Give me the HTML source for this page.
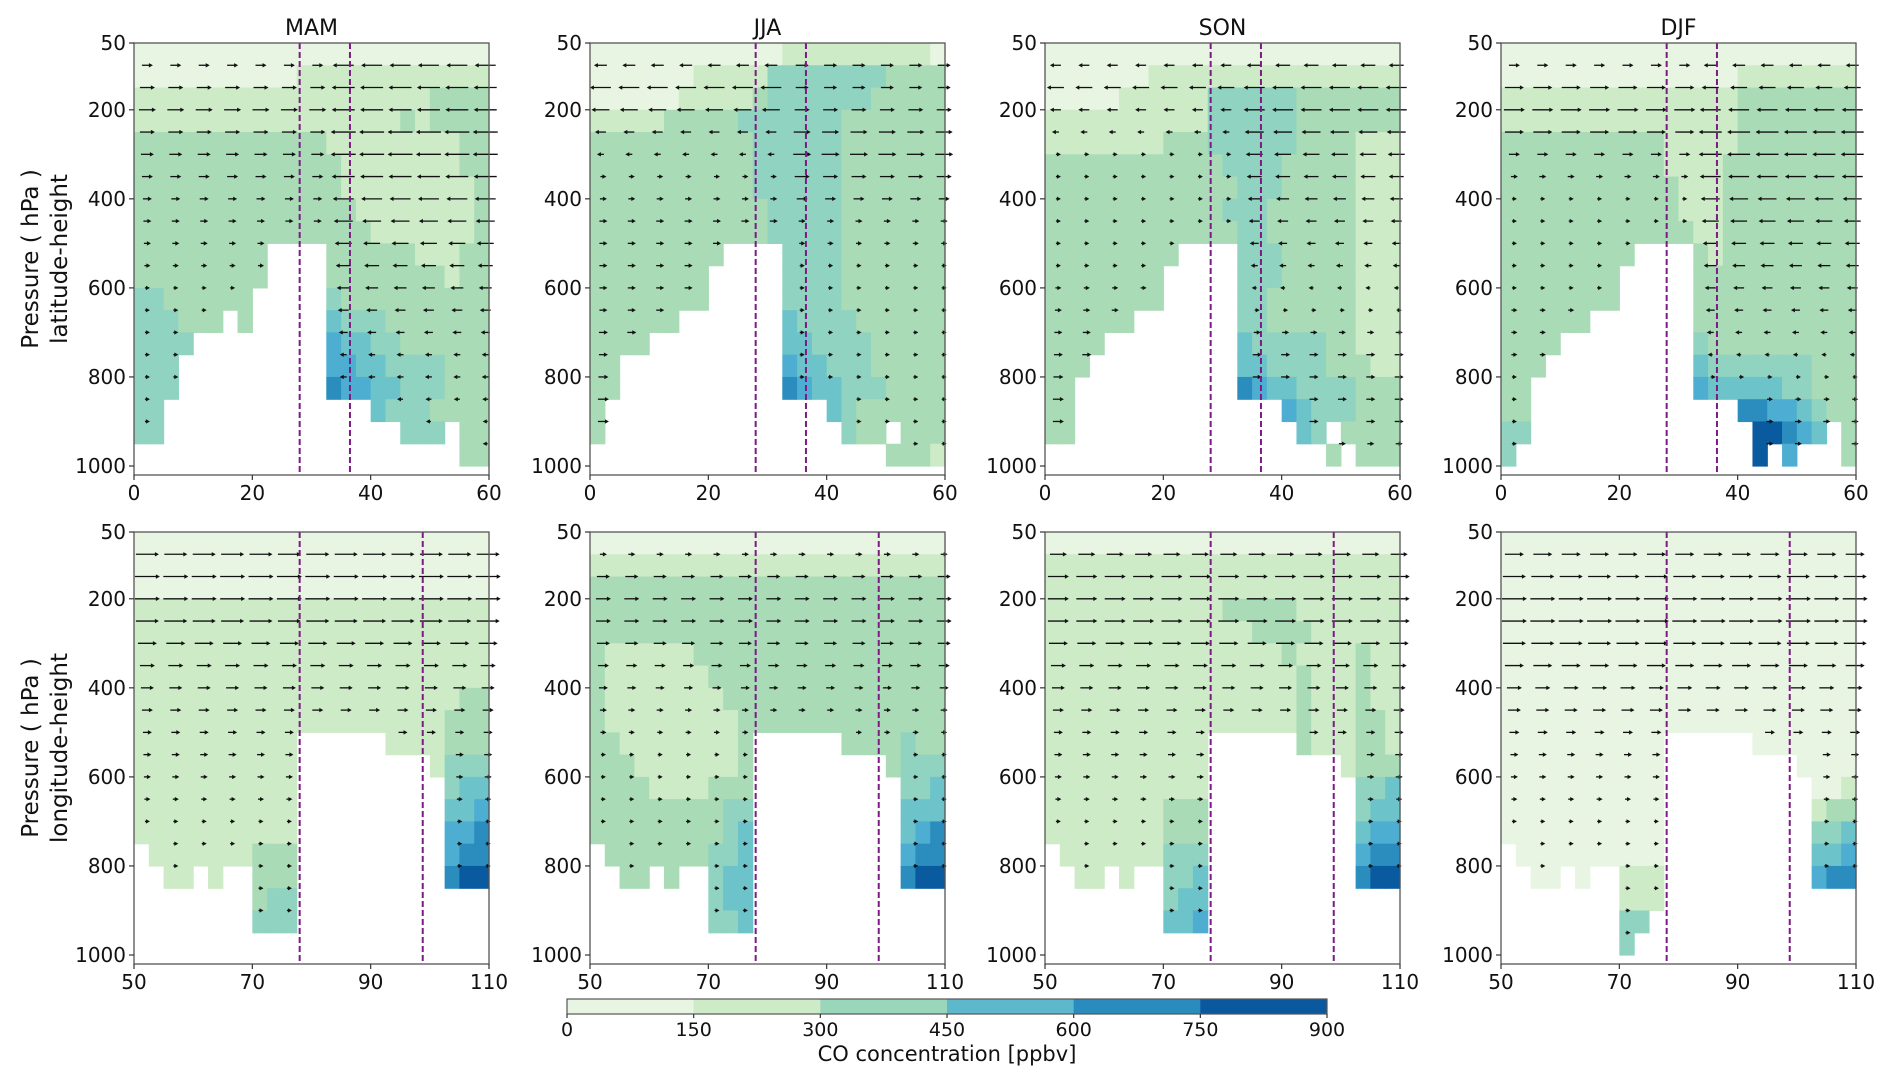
<!DOCTYPE html>
<html><head><meta charset="utf-8">
<style>
html,body{margin:0;padding:0;background:#fff;}
svg{display:block;font-family:"DejaVu Sans","Liberation Sans",sans-serif;}
</style></head>
<body>
<svg id="fig" width="1892" height="1086" viewBox="0 0 1892 1086" xmlns="http://www.w3.org/2000/svg"></svg>
<script>
// ---- data ----
const seasons = ["MAM","JJA","SON","DJF"];
const latTicks = [0,20,40,60];
const lonTicks = [50,70,90,110];
const pTicks = [50,200,400,600,800,1000];
const latLines = [28,36.5];
const lonLines = [78,98.8];
const cbTicks = [0,150,300,450,600,750,900];
const cbColors = ["#e8f5e2","#cdebc6","#9ad6ba","#5db8cc","#2a8bbe","#0a589e"];
const levelColors = {a:"#e8f5e2",b:"#cdebc6",c:"#a9dcb6",d:"#8fd3c0",e:"#6cc3c9",f:"#4daed2",g:"#2b8cbe",h:"#0a5a9f"};
// CO level grids: rows = 50 hPa bands from 50 to 1000, cols = 2.5 deg cells
const gridTopMAM = [
"aaaaaaaaaaaaaaaaaaaaaaaa","aaaaaaaaaaabbbbbbbbbbbbb","bbbbbbbbbbbbbbbbbbbbcccc","bbbbbbbbbbbbbbbbbbcbcccc",
"cccccccccccccbbbbbbbbbcc","ccccccccccccccbbbbbbbbcc","ccccccccccccccbbbbbbbbbc","cccccccccccccccbbbbbbbbc",
"ccccccccccccccccbbbbbbbc","ccccccccc....ccccccbbbcc","ccccccccc....ccccccccbcc","ddcccccc.....dcccccccccc",
"dddccc.c.....edddccccccc","dddd.........feeddcccccc","ddd..........ffeeddddccc","ddd..........gffeedddccc",
"dd..............edddcccc","dd................ddd.cc","......................cc"];
const gridTopJJA = [
"aaaaaaaaaaaaabbbbbbbbbba","aaaaaaabbbbbddddddddcccc","aaaaaabbbbbcdddddddccccc","bbbbbcccccdddddddccccccc",
"cccccccccccddddddccccccc","cccccccccccddddddccccccc","cccccccccccddddddccccccc","ccccccccccccdddddccccccc",
"ccccccccccccdddddccccccc","ccccccccc....ddddccccccc","cccccccc.....ddddccccccc","cccccccc.....ddddccccccc",
"cccccc.......eddddcccccc","cccc.........eeddddccccc","cc...........feedddccccc","cc...........gfeedddcccc",
"c...............edcccccc","c................dcc.ccc","....................cccb"];
const gridTopSON = [
"aaaaaaaaaaaaaaaaaaaaaaaa","aaaaaaabbbbbbbbbbbbbbbbb","aaaaabbbbbbddddddccccccc","bbbbbbbbbbbddddddccccccc",
"bbbbbbbbcccddddddccccbbb","ccccccccccccddddcccccbbb","cccccccccccccdddcccccbbb","ccccccccccccdddccccccbbb",
"cccccccccccccddccccccbbb","ccccccccc....dddcccccbbb","cccccccc.....dddcccccbbb","cccccccc.....ddccccccbbb",
"cccccc.......ddccccccbbb","cccc.........edddddccbbb","ccc..........eeddddcccbb","cc...........gfeeddddccc",
"cc..............fedddccc","cc...............ed.cccc","...................c.ccc"];
const gridTopDJF = [
"aaaaaaaaaaaaaaaaaaaaaaaa","aaaaaaaaaaaaaaaabbbbbbbb","bbbbbbbbbbbbbbbbcccccccc","bbbbbbbbbbbbbbbbcccccccc",
"cccccccccccbbbbbcccccccc","cccccccccccbbbbccccccccc","ccccccccccccbbbccccccccc","ccccccccccccbbbccccccccc",
"cccccccccccccbbccccccccc","ccccccccc....cbccccccccc","cccccccc.....ccccccccccc","cccccccc.....ccccccccccc",
"cccccc.......ccccccccccc","cccc.........dcccccccccc","ccc..........edddddddccc","cc...........feeeeeddccc",
"cc..............ggffedcc","dd...............hhgfe.c","d................h.f...c"];
const gridBotMAM = [
"aaaaaaaaaaaaaaaaaaaaaaaa","aaaaaaaaaaaaaaaaaaaaaaaa","aaaaaaaaaaaaaaaaaaaaaaaa","bbbbbbbbbbbbbbbbbbbbbbbb",
"bbbbbbbbbbbbbbbbbbbbbbbb","bbbbbbbbbbbbbbbbbbbbbbbb","bbbbbbbbbbbbbbbbbbbbbbbb","bbbbbbbbbbbbbbbbbbbbbbcc",
"bbbbbbbbbbbbbbbbbbbbbccc","bbbbbbbbbbb......bbbbccc","bbbbbbbbbbb.........bddd","bbbbbbbbbbb..........dee",
"bbbbbbbbbbb..........eef","bbbbbbbbbbb..........ffg",".bbbbbbbccc..........fgg","..bb.b..ccc..........ghh",
"........cdd.............","........ddd.............","........................"];
const gridBotJJA = [
"aaaaaaaaaaaaaaaaaaaaaaaa","bbbbbbbbbbbbbbbbbbbbbbbb","cccccccccccccccccccccccc","cccccccccccccccccccccccc",
"cccccccccccccccccccccccc","cbbbbbbccccccccccccccccc","cbbbbbbbcccccccccccccccc","cbbbbbbbbccccccccccccccc",
"cbbbbbbbbbcccccccccccccc","ccbbbbbbbbc......ccccdcc","cccbbbbbbbc.........cddd","ccccbbbbccc..........dde",
"cccccccccdd..........eee","cccccccccde..........efg",".cccccccdde..........fgg","..cc.c..dee..........ghh",
"........dee.............","........dde.............","........................"];
const gridBotSON = [
"aaaaaaaaaaaaaaaaaaaaaaaa","bbbbbbbbbbbbbbbbbbbbbbbb","bbbbbbbbbbbbbbbbbbbbbbbb","bbbbbbbbbbbbcccccbbbbbbb",
"bbbbbbbbbbbbbbccccbbbbbb","bbbbbbbbbbbbbbbbcbbbbcbb","bbbbbbbbbbbbbbbbbcbbbcbb","bbbbbbbbbbbbbbbbbcbbbcbb",
"bbbbbbbbbbbbbbbbbcbbbccb","bbbbbbbbbbb......cbbbccb","bbbbbbbbbbb.........bccc","bbbbbbbbbbb..........dde",
"bbbbbbbbccc..........dee","bbbbbbbbccc..........eff",".bbbbbbbddd..........fgg","..bb.b..dde..........ghh",
"........dee.............","........eef.............","........................"];
const gridBotDJF = [
"aaaaaaaaaaaaaaaaaaaaaaaa","aaaaaaaaaaaaaaaaaaaaaaaa","aaaaaaaaaaaaaaaaaaaaaaaa","aaaaaaaaaaaaaaaaaaaaaaaa",
"aaaaaaaaaaaaaaaaaaaaaaaa","aaaaaaaaaaaaaaaaaaaaaaaa","aaaaaaaaaaaaaaaaaaaaaaaa","aaaaaaaaaaaaaaaaaaaaaaaa",
"aaaaaaaaaaaaaaaaaaaaaaaa","aaaaaaaaaaa......aaaaaaa","aaaaaaaaaaa.........aaaa","aaaaaaaaaaa..........aab",
"aaaaaaaaaaa..........bcc","aaaaaaaaaaa..........dde",".aaaaaaaaaa..........eef","..aa.a..bbb..........fgg",
"........bbb.............","........dd..............","........d..............."];
// wind u components (px) per level 100..950 hPa, west / east part of section
const uTopMAM_W = [8,12,14,12,10,8,6,5,4,3,2,2,2,2,2,2,2,2];
const uTopMAM_E = [-18,-20,-20,-22,-22,-20,-18,-16,-14,-12,-10,-8,-6,-4,-4,-3,-2,-2];
const uTopJJA_W = [-10,-18,-15,-8,-4,3,4,5,5,5,5,5,6,6,7,8,8,8];
const uTopJJA_E = [10,10,12,14,15,12,8,4,3,2,2,2,1,1,1,1,1,1];
const uTopSON_W = [-8,-14,-8,-4,2,2,2,2,2,2,3,4,5,6,7,8,8,8];
const uTopSON_E = [-12,-18,-18,-16,-14,-12,-10,-8,-6,-4,-2,2,4,6,6,6,6,4];
const uTopDJF_W = [8,16,18,16,8,4,2,2,2,2,2,3,3,3,2,2,2,2];
const uTopDJF_E = [-10,-14,-18,-20,-20,-18,-16,-14,-12,-10,-8,-6,-4,-2,2,3,4,4];
const uBotMAM = [20,22,22,20,16,12,10,8,6,5,4,3,2,2,1,1,1,1];
const uBotJJA = [4,10,12,12,10,8,6,4,3,2,2,2,1,1,1,1,1,1];
const uBotSON = [14,18,18,18,16,12,10,8,6,5,4,3,2,2,1,1,1,1];
const uBotDJF = [16,20,22,22,20,16,12,10,7,5,4,3,2,2,1,1,1,1];

const topGrids=[gridTopMAM,gridTopJJA,gridTopSON,gridTopDJF];
const botGrids=[gridBotMAM,gridBotJJA,gridBotSON,gridBotDJF];
const topU=[[uTopMAM_W,uTopMAM_E],[uTopJJA_W,uTopJJA_E],[uTopSON_W,uTopSON_E],[uTopDJF_W,uTopDJF_E]];
const botU=[uBotMAM,uBotJJA,uBotSON,uBotDJF];

// ---- drawing ----
const NS="http://www.w3.org/2000/svg";
const svg=document.getElementById('fig');
function mk(tag,attrs,parent){const e=document.createElementNS(NS,tag);for(const k in attrs)e.setAttribute(k,attrs[k]);(parent||svg).appendChild(e);return e;}
const colX=[134,590,1045,1501], PW=355;
const rowY=[43,532], PH=432, PSCALE=423/950;

function drawPanel(ci,ri){
  const L=colX[ci], T=rowY[ri];
  const x0 = ri===0?0:50;
  const xs = v=>L+(v-x0)/60*PW;
  const ys = p=>T+(p-50)*PSCALE;
  const g=mk('g',{});
  
  
  const grid = ri===0?topGrids[ci]:botGrids[ci];
  for(let r=0;r<grid.length;r++){
    for(let c=0;c<grid[r].length;c++){
      const ch=grid[r][c]; if(ch==='.') continue;
      const x1=xs(x0+c*2.5), x2=xs(x0+(c+1)*2.5), y1=ys(50+r*50), y2=ys(50+(r+1)*50);
      const cell=mk('rect',{x:x1,y:y1,width:x2-x1+0.6,height:y2-y1+0.6,fill:levelColors[ch]},g);
      
      
    }
  }
  // quiver arrows
  const aw=mk('g',{fill:'#111',stroke:'#111','stroke-width':1.3},g);
  
  
  for(let k=0;k<18;k++){
    const p=100+k*50;
    for(let j=0;j<13;j++){
      const xv = ri===0 ? 1+j*4.8 : 51+j*4.8;
      const col=Math.floor((xv-x0)/2.5), row=Math.floor((p-50)/50);
      if(row>=grid.length||grid[row][col]==='.'||grid[Math.min(row,18)][col]===undefined) continue;
      let u;
      if(ri===0){u = xv<30 ? topU[ci][0][k] : topU[ci][1][k];}
      else u = botU[ci][k];
      const cx=xs(xv)+6, cy=ys(p);
      const len=Math.max(Math.abs(u),2), s=Math.sign(u)||1;
      const xa=cx-s*len/2, xb=cx+s*len/2;
      mk('line',{x1:xa,y1:cy,x2:xb,y2:cy},aw);
      mk('polygon',{points:`${xb+s*3},${cy} ${xb-s*1},${cy-2.2} ${xb-s*1},${cy+2.2}`,stroke:'none'},aw);
    }
  }
  // purple dashed boundaries
  const lines = ri===0?latLines:lonLines;
  lines.forEach(v=>{
    const l=mk('line',{x1:xs(v),x2:xs(v),y1:T,y2:T+PH,stroke:'#7d1a86','stroke-width':2,'stroke-dasharray':'6,3'},g);
    
    
  });
  // frame
  const fr=mk('rect',{x:L,y:T,width:PW,height:PH,fill:'none',stroke:'#555','stroke-width':1.3},g);
  
  
  // y ticks
  pTicks.forEach(p=>{
    mk('line',{x1:L-5,x2:L,y1:ys(p),y2:ys(p),stroke:'#333','stroke-width':1.2},g);
    const t=mk('text',{x:L-8,y:ys(p)+7,'text-anchor':'end','font-size':20,fill:'#111'},g);
    t.textContent=p;
    
    
  });
  // x ticks
  (ri===0?latTicks:lonTicks).forEach(v=>{
    mk('line',{x1:xs(v),x2:xs(v),y1:T+PH,y2:T+PH+5,stroke:'#333','stroke-width':1.2},g);
    const t=mk('text',{x:xs(v),y:T+PH+25,'text-anchor':'middle','font-size':20,fill:'#111'},g);
    t.textContent=v;
    
    
  });
  if(ri===0){
    const t=mk('text',{x:L+PW/2,y:T-8,'text-anchor':'middle','font-size':22,fill:'#111'},g);
    t.textContent=seasons[ci];
    
    
  }
}
for(let ri=0;ri<2;ri++)for(let ci=0;ci<4;ci++)drawPanel(ci,ri);

// y axis titles
[["latitude-height",259],["longitude-height",748]].forEach(([s,cy],i)=>{
  const g=mk('g',{transform:`translate(0,${cy})`});
  
  
  const t1=mk('text',{x:0,y:0,transform:'translate(38,0) rotate(-90)','text-anchor':'middle','font-size':23,fill:'#111'},g);
  t1.textContent='Pressure ( hPa )';
  const t2=mk('text',{x:0,y:0,transform:'translate(67,0) rotate(-90)','text-anchor':'middle','font-size':23,fill:'#111'},g);
  t2.textContent=s;
});

// colorbar
const CBL=567, CBR=1327, CBT=999, CBB=1014;
const cb=mk('g',{});


const cbx=v=>CBL+(v-cbTicks[0])/(cbTicks[cbTicks.length-1]-cbTicks[0])*(CBR-CBL);
cbColors.forEach((col,i)=>{
  const r=mk('rect',{x:cbx(cbTicks[i]),y:CBT,width:cbx(cbTicks[i+1])-cbx(cbTicks[i])+0.5,height:CBB-CBT,fill:col},cb);
  
  
});
mk('rect',{x:CBL,y:CBT,width:CBR-CBL,height:CBB-CBT,fill:'none',stroke:'#555','stroke-width':1.2},cb);
cbTicks.forEach(v=>{
  mk('line',{x1:cbx(v),x2:cbx(v),y1:CBB,y2:CBB+4,stroke:'#333','stroke-width':1.2},cb);
  const t=mk('text',{x:cbx(v),y:CBB+22,'text-anchor':'middle','font-size':19,fill:'#111'},cb);
  t.textContent=v;
  
  
});
const ct=mk('text',{x:(CBL+CBR)/2,y:1061,'text-anchor':'middle','font-size':21,fill:'#111'},cb);
ct.textContent='CO concentration [ppbv]';


</script>
</body></html>
